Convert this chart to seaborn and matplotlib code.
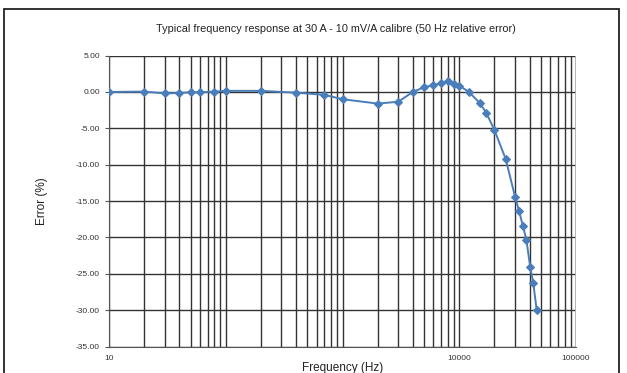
import matplotlib
matplotlib.use("Agg")
import matplotlib.pyplot as plt
import matplotlib.ticker as mticker
from matplotlib.patches import Rectangle
import seaborn as sns
import numpy as np

# frequency (Hz) and relative error (%)
freq_hz = [10, 20, 30, 40, 50, 60, 80, 100, 200, 400, 700, 1000, 2000, 3000,
           4000, 5000, 6000, 7000, 8000, 9000, 10000, 12000, 15000, 17000,
           20000, 25000, 30000, 32500, 35000, 37500, 40500, 43000, 46000]
error_pct = [0.0, 0.05, -0.2, -0.15, -0.05, -0.05, 0.05, 0.15, 0.15, -0.1,
             -0.4, -1.0, -1.6, -1.35, 0.0, 0.65, 0.95, 1.2, 1.5, 1.15, 0.85,
             0.05, -1.55, -2.85, -5.25, -9.25, -14.4, -16.4, -18.4, -20.3,
             -24.1, -26.3, -30.0]

y_ticks = [5, 0, -5, -10, -15, -20, -25, -30, -35]
x_labels = {10: "10", 10000: "10000", 100000: "100000"}

sns.set_style("white")
plt.rcParams["font.family"] = ["Liberation Sans", "DejaVu Sans"]
plt.rcParams["axes.unicode_minus"] = False

fig = plt.figure(figsize=(6.27, 3.73), dpi=100)
ax = fig.add_axes([0.1738, 0.071, 0.745, 0.780])

sns.lineplot(x=freq_hz, y=error_pct, ax=ax, color="#4a7ebb", linewidth=1.4,
             marker="D", markersize=4.5, markeredgecolor="#4a7ebb", zorder=5)

ax.set_xscale("log")
ax.set_xlim(10, 100000)
ax.set_ylim(-35, 5)

ax.xaxis.set_major_locator(mticker.FixedLocator([10, 100, 1000, 10000, 100000]))
ax.xaxis.set_major_formatter(mticker.FuncFormatter(lambda v, p: x_labels.get(int(round(v)), "")))
ax.xaxis.set_minor_locator(mticker.LogLocator(base=10, subs=np.arange(2, 10)))
ax.xaxis.set_minor_formatter(mticker.NullFormatter())
ax.set_yticks(y_ticks)
ax.yaxis.set_major_formatter(mticker.FormatStrFormatter("%.2f"))

ax.grid(True, which="both", axis="x", color="#333333", linewidth=1.0)
ax.grid(True, which="major", axis="y", color="#333333", linewidth=1.0)
ax.set_axisbelow(True)

ax.tick_params(axis="x", which="both", length=0, labelsize=6, colors="#333333", pad=6)
ax.tick_params(axis="y", length=3, width=0.8, color="#555555", labelsize=6,
               labelcolor="#333333", left=True)

for side in ["top", "right"]:
    ax.spines[side].set_visible(False)
ax.spines["left"].set_color("#555555")
ax.spines["bottom"].set_color("#555555")
ax.axvline(100000, color="#b0b0b0", linewidth=1.2, zorder=1)

ax.set_xlabel("Frequency (Hz)", fontsize=8.5, color="#222222", labelpad=0)
ax.set_ylabel("Error (%)", fontsize=8.5, color="#222222", labelpad=20)
fig.text(0.535, 0.923, "Typical frequency response at 30 A - 10 mV/A calibre (50 Hz relative error)",
         ha="center", va="center", fontsize=7.8, color="#222222")

fig.patches.append(Rectangle((4 / 627, -0.05), 615 / 627, 1.05 - 9 / 373,
                             transform=fig.transFigure, fill=False,
                             edgecolor="#222222", linewidth=1.3))

fig.savefig("out.png", dpi=100)
